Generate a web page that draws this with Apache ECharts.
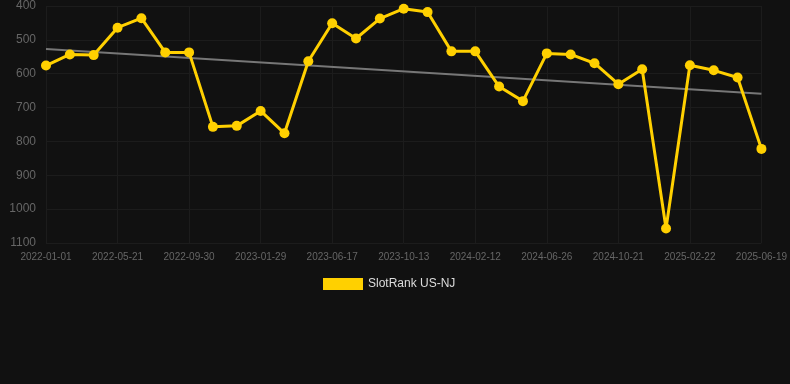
<!DOCTYPE html>
<html><head><meta charset="utf-8">
<script src="https://cdn.jsdelivr.net/npm/echarts@6/dist/echarts.min.js"></script>
<style>html,body{margin:0;padding:0;background:#111111;}#c{width:790px;height:384px;}</style>
</head><body><div id="c"></div>
<script>
var dates = ['2022-01-01','2022-02-16','2022-04-04','2022-05-21','2022-07-05','2022-08-17','2022-09-30','2022-11-10','2022-12-20','2023-01-29','2023-03-16','2023-05-02','2023-06-17','2023-07-28','2023-09-01','2023-10-13','2023-11-27','2023-12-29','2024-02-12','2024-03-28','2024-05-12','2024-06-26','2024-08-04','2024-09-12','2024-10-21','2024-12-02','2025-01-12','2025-02-22','2025-04-01','2025-05-10','2025-06-19'];
var rankValues = [576,543,545,464,436,537,537,757,754,710,776,563,451,496,437,408,418,534,534,638,681,540,543,569,631,587,1057,575,590,611,822];
var trendValues = [527,null,null,null,null,null,null,null,null,null,null,null,null,null,null,null,null,null,null,null,null,null,null,null,null,null,null,null,null,null,659];
var yTicks = {min:400, max:1100, interval:100};
var seriesName = 'SlotRank US-NJ';

var chart = echarts.init(document.getElementById('c'));
chart.setOption({
  backgroundColor:'#111111',
  animation:false,
  grid:{left:46,right:28,top:6,bottom:141,containLabel:false},
  legend:{data:[seriesName],left:318,top:273,itemWidth:40,itemHeight:12,itemGap:6,
    textStyle:{color:'#dddddd',fontSize:12,fontFamily:'Arial, Liberation Sans, sans-serif'},icon:'rect'},
  xAxis:{type:'category',data:dates,boundaryGap:false,
    axisLine:{show:false},axisTick:{show:false},
    axisLabel:{interval:2,color:'#666666',fontSize:10,margin:9,fontFamily:'Arial, Liberation Sans, sans-serif'},
    splitLine:{show:true,interval:2,lineStyle:{color:'#1c1c1c'}}},
  yAxis:{type:'value',inverse:true,min:yTicks.min,max:yTicks.max,interval:yTicks.interval,
    axisLine:{show:false},axisTick:{show:false},
    axisLabel:{color:'#666666',fontSize:12,margin:10,fontFamily:'Arial, Liberation Sans, sans-serif',
      formatter:function(v){return String(v);}},
    splitLine:{lineStyle:{color:'#1c1c1c'}}},
  series:[
    {name:'trend',type:'line',data:trendValues,connectNulls:true,symbol:'none',
     lineStyle:{color:'#777777',width:2},z:1,silent:true},
    {name:seriesName,type:'line',data:rankValues,symbol:'circle',symbolSize:10,
     itemStyle:{color:'#FFD000'},lineStyle:{color:'#FFD000',width:3},z:2}
  ]
});
</script></body></html>
